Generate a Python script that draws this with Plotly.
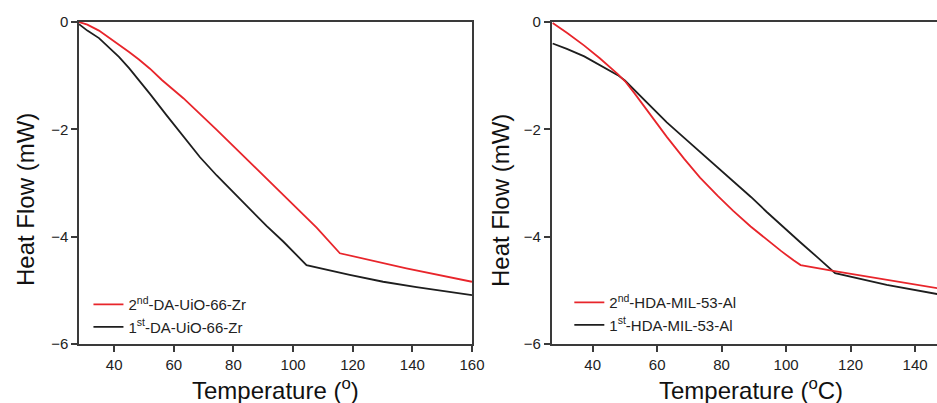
import plotly.graph_objects as go

# ---- DSC heat-flow curves: DA-UiO-66-Zr (left panel) ----
uio_temp_2nd = [28.2, 31.0, 34.9, 38.0, 41.6, 45.0, 48.3, 52.0, 56.0, 63.2, 74.4, 85.5, 96.7, 107.9,
                115.7, 138.0, 160.0]
uio_flow_2nd = [0.0, -0.05, -0.16, -0.28, -0.42, -0.56, -0.70, -0.87, -1.08, -1.42, -2.01, -2.61, -3.22, -3.83,
                -4.31, -4.59, -4.84]

uio_temp_1st = [28.2, 31.0, 34.9, 38.0, 41.6, 45.0, 48.3, 52.0, 57.6, 63.2, 68.8, 74.4, 80.1, 85.5,
                91.1, 96.7, 101.2, 104.5, 119.0, 130.2, 141.4, 160.0]
uio_flow_1st = [-0.04, -0.16, -0.30, -0.46, -0.65, -0.86, -1.08, -1.34, -1.74, -2.14, -2.52, -2.86, -3.18, -3.49,
                -3.80, -4.09, -4.34, -4.53, -4.71, -4.84, -4.94, -5.09]

# ---- DSC heat-flow curves: HDA-MIL-53-Al (right panel) ----
mil_temp_2nd = [27.6, 32.0, 37.4, 42.3, 47.8, 50.0, 53.0, 58.1, 63.0, 68.4, 73.3, 78.8, 83.6, 89.0,
                94.0, 98.5, 102.3, 104.5, 115.0, 126.1, 147.0]
mil_flow_2nd = [-0.02, -0.20, -0.44, -0.68, -0.97, -1.10, -1.33, -1.74, -2.14, -2.55, -2.90, -3.24, -3.52, -3.81,
                -4.06, -4.27, -4.44, -4.53, -4.64, -4.75, -4.96]

mil_temp_1st = [27.6, 32.0, 37.4, 42.3, 47.8, 50.0, 53.0, 58.1, 63.0, 68.4, 73.3, 78.8, 83.6, 89.1,
                94.0, 99.0, 104.3, 110.0, 115.2, 131.2, 147.0]
mil_flow_1st = [-0.40, -0.50, -0.64, -0.80, -0.99, -1.09, -1.27, -1.58, -1.87, -2.16, -2.42, -2.70, -2.96, -3.26,
                -3.54, -3.82, -4.10, -4.40, -4.68, -4.90, -5.07]

x_ticks = [40, 60, 80, 100, 120, 140, 160]
y_ticks = [0, -2, -4, -6]

RED = "#e8252b"
BLACK = "#1e1e1e"
AXIS = "#3a3a3a"
FONT = "Liberation Sans, Arial, sans-serif"

fig = go.Figure()

fig.add_trace(go.Scatter(x=uio_temp_2nd, y=uio_flow_2nd, mode="lines",
                         line=dict(color=RED, width=1.8),
                         name="2<sup>nd</sup>-DA-UiO-66-Zr",
                         xaxis="x", yaxis="y", legend="legend"))
fig.add_trace(go.Scatter(x=uio_temp_1st, y=uio_flow_1st, mode="lines",
                         line=dict(color=BLACK, width=1.8),
                         name="1<sup>st</sup>-DA-UiO-66-Zr",
                         xaxis="x", yaxis="y", legend="legend"))
fig.add_trace(go.Scatter(x=mil_temp_1st, y=mil_flow_1st, mode="lines",
                         line=dict(color=BLACK, width=1.8),
                         name="1<sup>st</sup>-HDA-MIL-53-Al",
                         xaxis="x2", yaxis="y2", legend="legend2"))
fig.add_trace(go.Scatter(x=mil_temp_2nd, y=mil_flow_2nd, mode="lines",
                         line=dict(color=RED, width=1.8),
                         name="2<sup>nd</sup>-HDA-MIL-53-Al",
                         xaxis="x2", yaxis="y2", legend="legend2"))

axis_common = dict(showline=True, linecolor=AXIS, linewidth=1.5,
                   ticks="outside", ticklen=6, tickwidth=1.5, tickcolor=AXIS,
                   showgrid=False, zeroline=False, automargin=False,
                   tickfont=dict(family=FONT, size=15, color="#222"))

y_dom = [0.1464, 0.9454]

fig.update_layout(
    width=937, height=403,
    margin=dict(l=0, r=0, t=0, b=0, autoexpand=False),
    paper_bgcolor="white", plot_bgcolor="white",
    font=dict(family=FONT, color="#222"),
    xaxis=dict(domain=[0.0843, 0.5037], range=[28.2, 160], tickvals=x_ticks,
               mirror=True, anchor="y", **axis_common),
    yaxis=dict(domain=y_dom, range=[-6, 0], tickvals=y_ticks,
               mirror=True, anchor="x", **axis_common),
    xaxis2=dict(domain=[0.5888, 1.0], range=[27.3, 146.8], tickvals=x_ticks,
                mirror=True, anchor="y2", **axis_common),
    yaxis2=dict(domain=y_dom, range=[-6, 0], tickvals=y_ticks,
                anchor="x2", **axis_common),
    legend=dict(x=0.0944, y=0.285, xanchor="left", yanchor="top",
                bgcolor="rgba(0,0,0,0)", traceorder="normal",
                font=dict(family=FONT, size=15, color="#222"),
                itemwidth=30, tracegroupgap=0),
    legend2=dict(x=0.6076, y=0.29, xanchor="left", yanchor="top",
                 bgcolor="rgba(0,0,0,0)", traceorder="reversed",
                 font=dict(family=FONT, size=15, color="#222"),
                 itemwidth=30, tracegroupgap=0),
    showlegend=True,
)

title_font = dict(family=FONT, size=24, color="#111")

# vertical axis titles
for cx in (25, 500):
    fig.add_annotation(text="Heat Flow (mW)", x=cx / 937, y=1 - 200 / 403,
                       xref="paper", yref="paper", xanchor="center", yanchor="middle",
                       textangle=-90, showarrow=False, font=title_font)

# horizontal axis titles, sitting on the bottom edge of the figure
for txt, cx in (("Temperature (<sup>o</sup>)", 275), ("Temperature (<sup>o</sup>C)", 751)):
    fig.add_annotation(text=txt, x=cx / 937, y=0,
                       xref="paper", yref="paper", xanchor="center", yanchor="bottom",
                       yshift=-3, showarrow=False, font=title_font)

fig.write_html("out.html")
